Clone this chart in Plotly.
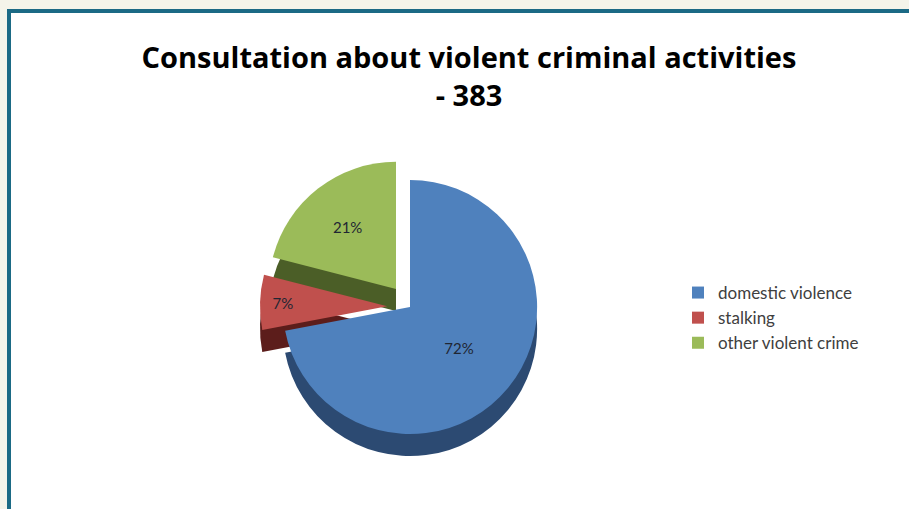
import plotly.graph_objects as go

# Data
categories = ["domestic violence", "stalking", "other violent crime"]
shares = [72, 7, 21]
total_cases = 383
title_text = "Consultation about violent criminal activities"

top_colors = ["#4F81BD", "#C0504D", "#9BBB59"]
side_colors = ["#2C4A72", "#5C1D1B", "#4B5E27"]
pulls = [0, 0.18, 0.18]

W, H = 909, 509

def dom(cx, cy, half):
    return dict(x=[(cx - half) / W, (cx + half) / W],
                y=[1 - (cy + half) / H, 1 - (cy - half) / H])

fig = go.Figure()

# depth (side) layer
fig.add_trace(go.Pie(
    labels=categories, values=shares, sort=False, direction="clockwise",
    rotation=0, pull=pulls, domain=dom(410, 329, 150),
    marker=dict(colors=side_colors, line=dict(width=0)),
    textinfo="none", showlegend=False, hoverinfo="skip",
))

# top surface
fig.add_trace(go.Pie(
    labels=categories, values=shares, sort=False, direction="clockwise",
    rotation=0, pull=pulls, domain=dom(410, 307, 150),
    marker=dict(colors=top_colors, line=dict(width=0)),
    texttemplate="%{value}%", textposition="inside",
    insidetextorientation="horizontal",
    textfont=dict(family="Lato, Open Sans, sans-serif", size=15, color="#1F2633"),
    showlegend=True,
))

fig.update_layout(
    width=W, height=H,
    margin=dict(l=0, r=0, t=0, b=0),
    paper_bgcolor="#F4F4EA",
    plot_bgcolor="white",
    title=dict(
        text=f"<b>{title_text}<br>- {total_cases}</b>",
        x=469 / W, xanchor="center", y=1 - 68 / H, yanchor="top",
        font=dict(family="Open Sans, Lato, sans-serif", size=29, color="#000000"),
    ),
    legend=dict(
        x=678 / W, xanchor="left", y=1 - 275 / H, yanchor="top",
        font=dict(family="Lato, Open Sans, sans-serif", size=17, color="#404040"),
        bgcolor="rgba(0,0,0,0)",
    ),
    shapes=[dict(
        type="rect", xref="paper", yref="paper", layer="below",
        x0=9 / W, x1=1.05, y0=-0.05, y1=1 - 11 / H,
        fillcolor="white", line=dict(color="#1B6A85", width=4),
    )],
)

fig.write_html(
    "out.html",
    config={"displayModeBar": False},
    post_script="document.body.style.margin='0';document.body.style.overflow='hidden';",
)
